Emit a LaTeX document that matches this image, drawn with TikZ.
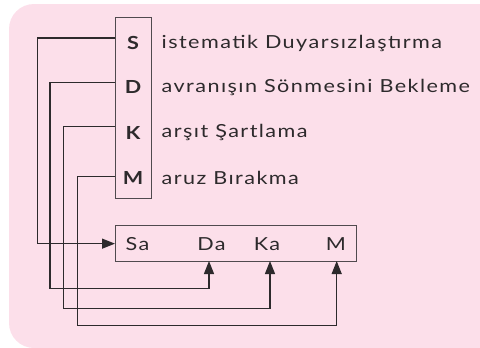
\documentclass[tikz,border=0pt]{standalone}
\usepackage{fontspec}
\setmainfont{Lato}[FakeStretch=1.2, LetterSpace=8]
\usetikzlibrary{arrows.meta}
\definecolor{bgpink}{RGB}{252,223,234}
\definecolor{ink}{RGB}{45,42,44}
\definecolor{boxline}{RGB}{80,74,78}
\tikzset{
  conn/.style={draw=ink, line width=1.3pt},
  arr/.style={conn, -{Triangle[length=13pt,width=10pt]}},
  lett/.style={font=\fontsize{18}{18}\selectfont\bfseries, text=ink, inner sep=0pt},
  desc/.style={font=\fontsize{18}{18}\selectfont, text=ink, anchor=west, inner sep=0pt},
  inbox/.style={font=\fontsize{18}{18}\selectfont, text=ink, inner sep=0pt},
  frame/.style={draw=boxline, line width=1.3pt, inner sep=0pt}
}
\begin{document}
\begin{tikzpicture}[x=1pt,y=-1pt]
\useasboundingbox (0,0) rectangle (480,348);
\fill[bgpink, rounded corners=25pt] (9,4) rectangle (520,348);
% letter column
\node[frame, minimum width=36pt, minimum height=181pt, anchor=north west] (lbox) at (115,17) {};
\node[lett] (S) at (133,43) {S};
\node[lett] (D) at (133,87) {D};
\node[lett] (K) at (133,132.5) {K};
\node[lett] (M) at (133,177.5) {M};
\node[desc] (tS) at (161.5,43) {istematik Duyarsızlaştırma};
\node[desc] (tD) at (161.5,87) {avranışın Sönmesini Bekleme};
\node[desc] (tK) at (161.5,132.5) {arşıt Şartlama};
\node[desc] (tM) at (161.5,177.5) {aruz Bırakma};
% bottom box
\node[frame, minimum width=241pt, minimum height=36pt, anchor=north west] (bbox) at (115,225) {};
\node[inbox] (Sa) at (137.5,244) {Sa};
\node[inbox] (Da) at (211.5,244) {Da};
\node[inbox] (Ka) at (267,244) {Ka};
\node[inbox] (Mm) at (336,244) {M};
% connector ends
\coordinate (s0) at (115,38);
\coordinate (d0) at (115,82.7);
\coordinate (k0) at (115,126.5);
\coordinate (m0) at (115,176.7);
\coordinate (dT) at (209,261);
\coordinate (kT) at (270,261);
\coordinate (mT) at (336.7,261);
% connectors
\draw[arr] (s0) -- (37.7,38) |- (bbox.west);
\draw[arr] (d0) -- (50,82.7) |- (209,288.3) -- (dT);
\draw[arr] (k0) -- (63.3,126.5) |- (270,308.3) -- (kT);
\draw[arr] (m0) -- (77.3,176.7) |- (336.7,325.7) -- (mT);
\end{tikzpicture}
\end{document}
